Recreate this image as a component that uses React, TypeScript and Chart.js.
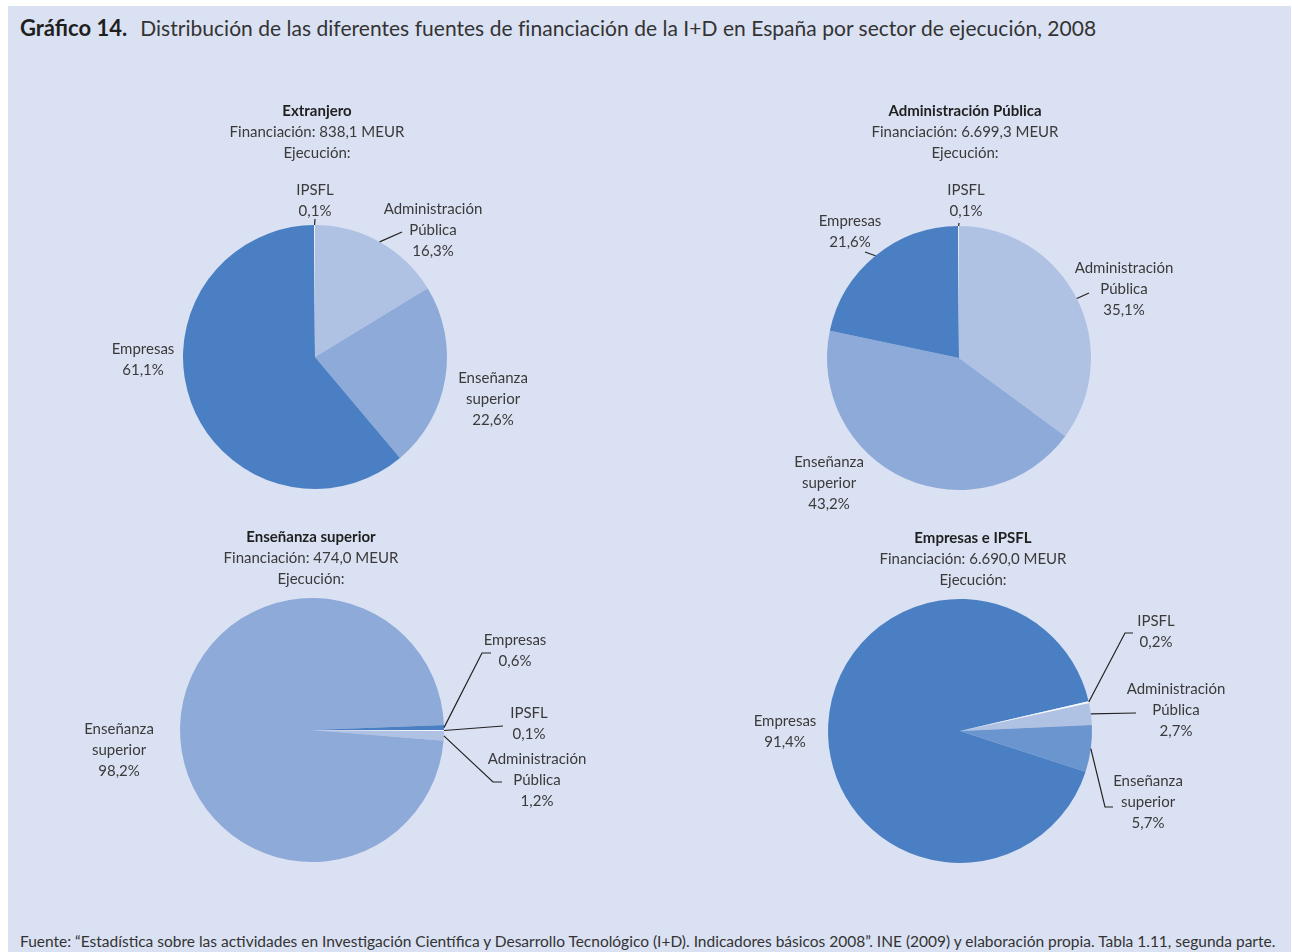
import React, { useEffect, useRef } from "react";
import { Chart, registerables } from "chart.js";

Chart.register(...registerables);

// ---------- data ----------
const categories = ["Administración Pública", "Enseñanza superior", "Empresas", "IPSFL"];
const categoryLabelLines = [["Administración", "Pública"], ["Enseñanza", "superior"], ["Empresas"], ["IPSFL"]];
const extranjeroValues = [16.3, 22.6, 61.1, 0.1];
const administracionValues = [35.1, 43.2, 21.6, 0.1];
const ensenanzaValues = [1.2, 98.2, 0.6, 0.1];
const empresasIpsflValues = [2.7, 5.7, 91.4, 0.2];
const panelNames = ["Extranjero", "Administración Pública", "Enseñanza superior", "Empresas e IPSFL"];
const financiacionMeur = ["838,1", "6.699,3", "474,0", "6.690,0"];

const mainTitleBold = "Gráfico 14.";
const mainTitleText =
  "Distribución de las diferentes fuentes de financiación de la I+D en España por sector de ejecución, 2008";
const footerText =
  "Fuente: “Estadística sobre las actividades en Investigación Científica y Desarrollo Tecnológico (I+D). Indicadores básicos 2008”. INE (2009) y elaboración propia. Tabla 1.11, segunda parte.";

// ---------- styles / layout ----------
const FONT = "Lato, 'Open Sans', sans-serif";
const BG = "#dae1f2";
const C_ADMIN = "#b0c2e3";
const C_ENS = "#8eaad8";
const C_ENS_DARK = "#6b95cf";
const C_EMP = "#4a80c3";
const C_IPSFL = "#f6f8fc";
const LINE = 21.3;
const CW = 600;
const CH = 440;
const CX = 300;
const CY = 262;
const R = 132;

type LabelLayout = { dx: number; dy: number; leader?: [number, number][] };
type PanelLayout = {
  values: number[];
  cx: number;
  cy: number;
  rotation: number;
  titleDx: number;
  titleDy: number;
  colors: string[];
  labels: LabelLayout[];
};

const PANELS: PanelLayout[] = [
  {
    values: extranjeroValues,
    cx: 315,
    cy: 357,
    rotation: 0,
    titleDx: 2,
    titleDy: -246,
    colors: [C_ADMIN, C_ENS, C_EMP, C_IPSFL],
    labels: [
      { dx: 118, dy: -148, leader: [[87, -125]] },
      { dx: 178, dy: 21 },
      { dx: -172, dy: -8 },
      { dx: 0, dy: -167, leader: [[0, -138]] },
    ],
  },
  {
    values: administracionValues,
    cx: 959,
    cy: 358,
    rotation: 0,
    titleDx: 6,
    titleDy: -247,
    colors: [C_ADMIN, C_ENS, C_EMP, C_IPSFL],
    labels: [
      { dx: 165, dy: -90, leader: [[130, -65]] },
      { dx: -130, dy: 104 },
      { dx: -109, dy: -137, leader: [[-94, -106]] },
      { dx: 7, dy: -168, leader: [[0, -135]] },
    ],
  },
  {
    values: ensenanzaValues,
    cx: 312,
    cy: 730,
    rotation: 90.4,
    titleDx: -1,
    titleDy: -193,
    colors: [C_ADMIN, C_ENS, C_EMP, C_IPSFL],
    labels: [
      { dx: 225, dy: 29, leader: [[181, 52], [190, 52]] },
      { dx: -193, dy: -1 },
      { dx: 203, dy: -90, leader: [[170, -77], [179, -77]] },
      { dx: 217, dy: -17, leader: [[191, -4]] },
    ],
  },
  {
    values: empresasIpsflValues,
    cx: 960,
    cy: 731,
    rotation: 77.7,
    titleDx: 13,
    titleDy: -193,
    colors: [C_ADMIN, C_ENS_DARK, C_EMP, C_IPSFL],
    labels: [
      { dx: 216, dy: -42, leader: [[176, -18]] },
      { dx: 188, dy: 50, leader: [[145, 76], [153, 76]] },
      { dx: -175, dy: -10 },
      { dx: 196, dy: -110, leader: [[165, -98], [173, -98]] },
    ],
  },
];

const fmtPct = (v: number) => v.toFixed(1).replace(".", ",") + "%";

function PieChart({ index }: { index: number }) {
  const ref = useRef<HTMLCanvasElement | null>(null);
  const p = PANELS[index];

  useEffect(() => {
    if (!ref.current) return;
    const labelPlugin = {
      id: "pieLabels" + index,
      afterDraw(chart: any) {
        const ctx = chart.ctx as CanvasRenderingContext2D;
        const meta = chart.getDatasetMeta(0);
        const a0 = meta.data[0].getProps(["x", "y", "outerRadius"], true);
        const cx = a0.x;
        const cy = a0.y;
        const r = a0.outerRadius;
        ctx.save();
        ctx.textAlign = "center";
        ctx.textBaseline = "middle";
        // panel title
        ctx.fillStyle = "#1f1f1f";
        ctx.font = `bold 15px ${FONT}`;
        ctx.fillText(panelNames[index], cx + p.titleDx, cy + p.titleDy);
        ctx.fillStyle = "#3a3a3a";
        ctx.font = `15px ${FONT}`;
        ctx.fillText(`Financiación: ${financiacionMeur[index]} MEUR`, cx + p.titleDx, cy + p.titleDy + LINE);
        ctx.fillText("Ejecución:", cx + p.titleDx, cy + p.titleDy + 2 * LINE);
        // slice labels
        meta.data.forEach((arc: any, i: number) => {
          const { startAngle, endAngle } = arc.getProps(["startAngle", "endAngle"], true);
          const mid = (startAngle + endAngle) / 2;
          const L = p.labels[i];
          if (L.leader) {
            ctx.beginPath();
            ctx.strokeStyle = "#222";
            ctx.lineWidth = 1.2;
            ctx.moveTo(cx + Math.cos(mid) * r, cy + Math.sin(mid) * r);
            L.leader.forEach(([lx, ly]) => ctx.lineTo(cx + lx, cy + ly));
            ctx.stroke();
          }
          const lines = [...categoryLabelLines[i], fmtPct(p.values[i])];
          lines.forEach((t, k) => ctx.fillText(t, cx + L.dx, cy + L.dy + k * LINE));
        });
        ctx.restore();
      },
    };
    const chart = new Chart(ref.current, {
      type: "pie",
      data: {
        labels: categories,
        datasets: [
          {
            data: p.values,
            backgroundColor: p.colors,
            borderWidth: 0,
          },
        ],
      },
      options: {
        responsive: false,
        animation: false,
        rotation: p.rotation,
        layout: {
          padding: { top: CY - R, bottom: CH - CY - R, left: CX - R, right: CW - CX - R },
        },
        plugins: {
          legend: { display: false },
          tooltip: { enabled: false },
          title: { display: false },
        },
      },
      plugins: [labelPlugin],
    } as any);
    return () => chart.destroy();
  }, [index]);

  return (
    <canvas
      ref={ref}
      width={CW}
      height={CH}
      style={{
        position: "absolute",
        left: p.cx - CX - 8,
        top: p.cy - CY - 6,
        width: CW,
        height: CH,
      }}
    />
  );
}

export default function App() {
  useEffect(() => {
    document.body.style.margin = "0";
    document.body.style.overflow = "hidden";
  }, []);
  return (
    <div
      style={{
        position: "absolute",
        left: 8,
        top: 6,
        width: 1283,
        height: 950,
        background: BG,
        fontFamily: FONT,
        overflow: "hidden",
      }}
    >
      <div
        style={{
          position: "absolute",
          left: 12,
          top: 9,
          fontSize: 21,
          lineHeight: "26px",
          color: "#333",
          whiteSpace: "nowrap",
        }}
      >
        <b style={{ color: "#1f1f1f", fontSize: 22 }}>{mainTitleBold}</b>
        <span style={{ marginLeft: 13, letterSpacing: 0.03 }}>{mainTitleText}</span>
      </div>
      {PANELS.map((_, i) => (
        <PieChart key={i} index={i} />
      ))}
      <div
        style={{
          position: "absolute",
          left: 12,
          top: 924,
          fontSize: 15.5,
          lineHeight: "22px",
          color: "#333",
          whiteSpace: "nowrap",
        }}
      >
        {footerText}
      </div>
    </div>
  );
}
